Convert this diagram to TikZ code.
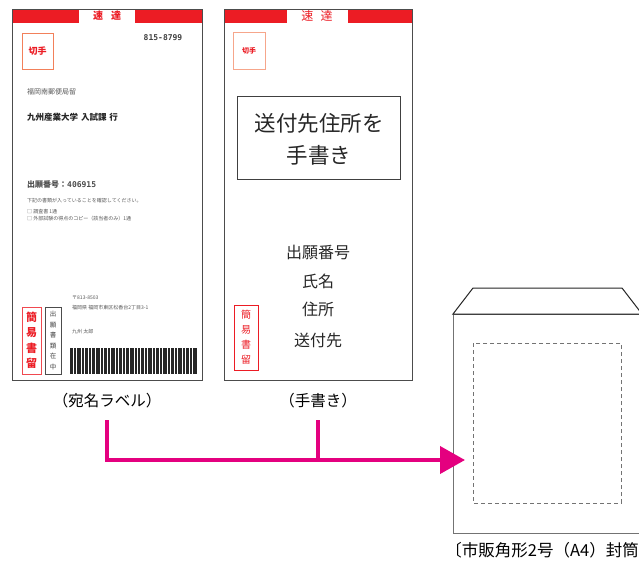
\documentclass[tikz,border=0pt]{standalone}
\usepackage{fontspec}
\setmainfont{Noto Sans CJK JP}
\newfontfamily\mono{DejaVu Sans Mono}
\usetikzlibrary{arrows.meta}
\definecolor{sokutatsu}{HTML}{EC1C24}
\definecolor{kitte}{HTML}{F2805A}
\definecolor{arrowpink}{HTML}{E4007F}
\tikzset{
  card/.style={draw=black!70,line width=1pt},
  band/.style={fill=sokutatsu},
  stampbox/.style={draw=kitte,line width=.8pt},
  redtext/.style={text=sokutatsu,inner sep=0pt},
  smalltext/.style={anchor=west,inner sep=0pt,text=black!65,font=\fontsize{5}{6}\selectfont},
  flow/.style={draw=arrowpink,line width=4pt},
  caption/.style={inner sep=0pt,font=\fontsize{15.5}{18}\selectfont}
}
\begin{document}
\begin{tikzpicture}[x=1pt,y=-1pt]
\clip (0,0) rectangle (639,563);
\fill[white] (0,0) rectangle (639,563);
% address label
\fill[band] (12,9) rectangle (79,23);
\fill[band] (135,9) rectangle (202,23);
\draw[card] (12,9) rectangle (202,380);
\node (lab) at (107,200) {};
\node[redtext,font=\bfseries\fontsize{10}{12}\selectfont] (labsoku) at (107,16) {速\hspace{.8em}達};
\draw[stampbox] (22,33) rectangle (53,69);
\node[redtext,font=\bfseries\fontsize{9}{10}\selectfont] (labkitte) at (37.5,51) {切手};
\node[inner sep=0pt,font=\mono\bfseries\fontsize{8}{10}\selectfont,text=black!75] (zip) at (163,38) {815-8799};
\node[smalltext,font=\fontsize{7}{8}\selectfont] (post) at (27,92) {福岡南郵便局留};
\node[smalltext,text=black!85,font=\bfseries\fontsize{8.5}{10}\selectfont] (dest) at (27,117) {九州産業大学\,\,入試課\,\,行};
\node[smalltext,text=black!70,font=\bfseries\fontsize{8}{10}\selectfont] (appno) at (27,184) {出願番号：{\mono 406915}};
\node[smalltext] (check) at (27,201) {下記の書類が入っていることを確認してください。};
\node[smalltext] (doc1) at (27,212) {□\ 調査書 1通};
\node[smalltext] (doc2) at (27,219) {□\ 外部試験の得点のコピー（該当者のみ）1通};
\node[smalltext] (from1) at (72,298) {〒813-8503};
\node[smalltext] (from2) at (72,308) {福岡県 福岡市東区松香台2丁目3-1};
\node[smalltext] (from3) at (72,332) {九州 太郎};
\draw[draw=sokutatsu!80,line width=.8pt] (22,307) rectangle (41,374);
\node[redtext,align=center,font=\bfseries\fontsize{11}{15.5}\selectfont] (labkan) at (31.5,340.5) {簡\\易\\書\\留};
\draw[draw=black!70,line width=.8pt] (45,307) rectangle (61,374);
\node[inner sep=0pt,align=center,text=black!75,font=\fontsize{6.5}{10.5}\selectfont] (zaichu) at (53,340.5) {出\\願\\書\\類\\在\\中};
\foreach \bx/\bw in {0/3,4/2,7/3.5,12/2,15/3,19/2,22/3,26/4,31/1.5,34/3,38/2,41/4,46/2,49/3,53/1.5,56/3,60/4,65/2,68/2,71/3,75/2,78/4,83/2,86/3,90/2,93/4,98/2,101/3,105/2,108/4,113/2,116/3,120/2,123/4}
  \fill[black!85] (70+\bx,348) rectangle (70+\bx+\bw,374);
% handwritten
\fill[band] (224,9) rectangle (287,23);
\fill[band] (348,9) rectangle (412,23);
\draw[card] (224,9) rectangle (412,380);
\node (hand) at (318,200) {};
\node[redtext,font=\fontsize{12}{14}\selectfont] (handsoku) at (317,16) {速\hspace{.6em}達};
\draw[stampbox,draw=kitte!70] (233,32) rectangle (265,69);
\node[redtext,font=\bfseries\fontsize{7}{9}\selectfont] (handkitte) at (249,50.5) {切手};
\draw[draw=black!75,line width=1pt] (237,96) rectangle (400,179);
\node[inner sep=0pt,font=\fontsize{21.5}{32}\selectfont,align=center,text=black!85] (addr) at (319,139) {送付先住所を\\手書き};
\foreach \t/\y in {出願番号/252,氏名/281,住所/309,送付先/340}
  \node[inner sep=0pt,font=\fontsize{16}{18}\selectfont,text=black!85] at (318,\y) {\t};
\draw[draw=sokutatsu,line width=.8pt] (234,305) rectangle (258,370);
\node[redtext,align=center,font=\fontsize{10}{15}\selectfont] (handkan) at (246,337.5) {簡\\易\\書\\留};
% captions
\node[caption] (labcap) at (107,401) {（宛名ラベル）};
\node[caption] (handcap) at (318,401) {（手書き）};
% envelope
\draw[draw=black!55,line width=1pt] (453,314) rectangle (660,533);
\draw[draw=black!85,line width=1pt] (453,314) -- (473,288) -- (622,288) -- (642,314) -- cycle;
\draw[draw=black!55,line width=1pt,dash pattern=on 4pt off 3pt] (473,343) rectangle (621,503);
\node (env) at (546,423) {};
\node[caption,anchor=east,font=\fontsize{16.5}{18}\selectfont] (envcap) at (639,550) {〔市販角形2号（A4）封筒};
% arrows
\coordinate (a1) at (labcap.south |- 0,420);
\coordinate (a2) at (handcap.south |- 0,420);
\coordinate (tip) at (465,460);
\draw[flow,-{Triangle[length=25pt,width=27pt]}] (a1) |- (tip);
\draw[flow] (a2) -- (a2 |- tip);
\end{tikzpicture}
\end{document}
